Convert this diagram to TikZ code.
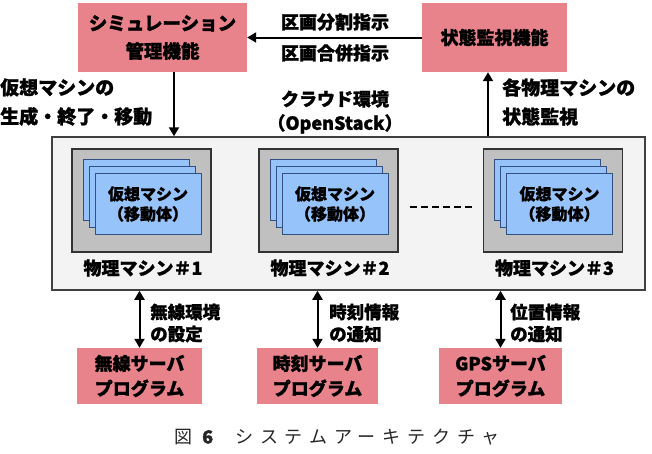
\documentclass[tikz,border=0pt]{standalone}
\usepackage{fontspec}
\setmainfont{Noto Sans CJK JP}[BoldFeatures={FakeBold=1.3}]
\usetikzlibrary{arrows.meta,calc}
\definecolor{pinkbox}{RGB}{232,131,140}
\definecolor{bluevm}{RGB}{150,195,250}
\definecolor{bluebd}{RGB}{50,80,130}
\definecolor{cloudfill}{RGB}{243,243,243}
\definecolor{machfill}{RGB}{192,192,192}
\begin{document}
\begin{tikzpicture}[x=1pt,y=-1pt,
  pbox/.style={fill=pinkbox,draw=none,align=center,font=\bfseries\fontsize{18}{25}\selectfont,inner sep=0pt},
  mbox/.style={fill=machfill,draw=black!80,line width=1.6pt,minimum width=139pt,minimum height=103pt,inner sep=0pt},
  vm/.style={fill=bluevm,draw=bluebd,line width=1pt,minimum width=106pt,minimum height=61pt,inner sep=0pt},
  vmtext/.style={align=center,font=\bfseries\fontsize{16}{20}\selectfont},
  lbl/.style={font=\bfseries\fontsize{18}{28}\selectfont,inner sep=0pt},
  arr/.style={line width=2pt,-{Triangle[length=9pt,width=10pt]}},
  darr/.style={line width=2pt,{Triangle[length=9pt,width=10pt]}-{Triangle[length=9pt,width=10pt]}}
]
\useasboundingbox (0,0) rectangle (652,453);
% top boxes
\node[pbox,minimum width=169pt,minimum height=69pt,font=\bfseries\fontsize{18.5}{28}\selectfont] (sim) at (162.5,37.5) {シミュレーション\\管理機能};
\node[pbox,minimum width=145pt,minimum height=69pt] (mon) at (494.5,37.5) {状態監視機能};
\draw[arr] (mon.west) -- (sim.east);
\node[lbl] (t1) at (335,22) {区画分割指示};
\node[lbl] (t2) at (335,53) {区画合併指示};
% cloud
\node[fill=cloudfill,draw=black!75,line width=1.5pt,minimum width=593pt,minimum height=153pt,inner sep=0pt] (cloud) at (348.5,213.5) {};
\node[lbl,align=center,font=\bfseries\fontsize{18}{24}\selectfont] (cl) at (335,112) {クラウド環境\\（OpenStack）};
\coordinate (sa) at ($(sim.south)+(11.5,0)$);
\coordinate (ma) at ($(mon.south)+(-6.5,0)$);
\draw[arr] (sa) -- (sa |- cloud.north);
\draw[arr] (ma |- cloud.north) -- (ma);
\node[lbl,align=left,anchor=west,font=\bfseries\fontsize{19}{29}\selectfont] (ll) at (0,102) {仮想マシンの\\生成・終了・移動};
\node[lbl,align=left,anchor=west,font=\bfseries\fontsize{19}{29}\selectfont] (rl) at (502,102) {各物理マシンの\\状態監視};
% machines
\foreach \i/\x in {1/141.5,2/328.5,3/553}{
  \node[mbox] (m\i) at (\x,200.5) {};
  \node[vm] (v\i a) at (\x-5.5,190) {};
  \node[vm] (v\i b) at (\x+0.5,197) {};
  \node[vm] (v\i c) at (\x+6.5,204) {};
  \node[vmtext] (vt\i) at (v\i c) {仮想マシン\\（移動体）};
  \node[lbl] (ml\i) at (\x+1.5,268) {物理マシン＃\i};
}
\coordinate (d1) at ($(m2.east)+(11,6.5)$);
\coordinate (d2) at ($(m3.west)+(-7,6.5)$);
\draw[line width=2pt,dash pattern=on 7pt off 4pt] (d1) -- (d2);
% bottom boxes
\node[pbox,minimum width=125pt,minimum height=56pt] (b1) at (139.5,376) {無線サーバ\\プログラム};
\node[pbox,minimum width=121pt,minimum height=56pt] (b2) at (317.5,376) {時刻サーバ\\プログラム};
\node[pbox,minimum width=123pt,minimum height=56pt] (b3) at (500.5,376) {GPSサーバ\\プログラム};
\draw[darr] (b1.north |- cloud.south) -- (b1.north);
\draw[darr] (b2.north |- cloud.south) -- (b2.north);
\draw[darr] (b3.north |- cloud.south) -- (b3.north);
\node[lbl,align=left,anchor=west,font=\bfseries\fontsize{17.5}{22}\selectfont] (bl1) at (150,323) {無線環境\\の設定};
\node[lbl,align=left,anchor=west,font=\bfseries\fontsize{17.5}{22}\selectfont] (bl2) at (329,323) {時刻情報\\の通知};
\node[lbl,align=left,anchor=west,font=\bfseries\fontsize{17.5}{22}\selectfont] (bl3) at (510,323) {位置情報\\の通知};
% caption
\node[font=\fontsize{18}{20}\selectfont,text=black!85,inner sep=0pt] (cap) at (337,437) {図\hspace{10pt}{\bfseries 6}\hspace{22pt}\addfontfeature{LetterSpace=38}システムアーキテクチャ};
\end{tikzpicture}
\end{document}
